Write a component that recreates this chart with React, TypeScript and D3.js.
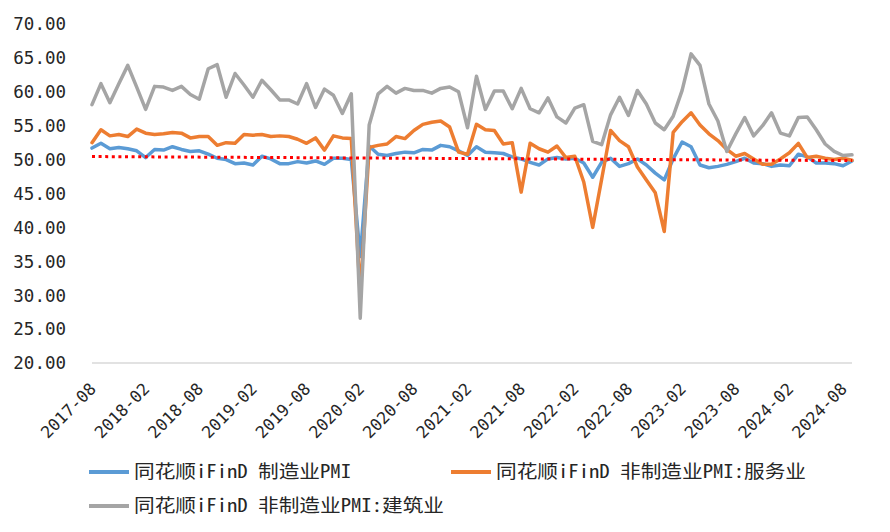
import React from "react";
import * as d3 from "d3";

// monthly, 2017-08 .. 2024-09
const startMonth = new Date(Date.UTC(2017, 7, 1));
const endMonth = new Date(Date.UTC(2024, 9, 1));
const months = d3.utcMonth.range(startMonth, endMonth).map(d3.utcFormat("%Y-%m"));

const manufacturing = [
  51.7, 52.4, 51.6, 51.8, 51.6,
  51.3, 50.3, 51.5, 51.4, 51.9, 51.5, 51.2, 51.3, 50.8, 50.2, 50.0, 49.4,
  49.5, 49.2, 50.5, 50.1, 49.4, 49.4, 49.7, 49.5, 49.8, 49.3, 50.2, 50.2,
  50.0, 35.7, 52.0, 50.8, 50.6, 50.9, 51.1, 51.0, 51.5, 51.4, 52.1, 51.9,
  51.3, 50.6, 51.9, 51.1, 51.0, 50.9, 50.4, 50.1, 49.6, 49.2, 50.1, 50.3,
  50.1, 50.2, 49.5, 47.4, 49.6, 50.2, 49.0, 49.4, 50.1, 49.2, 48.0, 47.0,
  50.1, 52.6, 51.9, 49.2, 48.8, 49.0, 49.3, 49.7, 50.2, 49.5, 49.4, 49.0,
  49.2, 49.1, 50.8, 50.4, 49.5, 49.5, 49.4, 49.1, 49.8,
];

const services = [
  52.5, 54.4, 53.5, 53.7, 53.4,
  54.5, 53.9, 53.7, 53.8, 54.0, 53.9, 53.2, 53.4, 53.4, 52.1, 52.5, 52.4,
  53.7, 53.6, 53.7, 53.4, 53.5, 53.4, 53.0, 52.4, 53.2, 51.4, 53.5, 53.2,
  53.1, 30.1, 51.8, 52.1, 52.3, 53.4, 53.1, 54.3, 55.2, 55.5, 55.7, 54.8,
  51.1, 50.8, 55.2, 54.4, 54.3, 52.3, 52.5, 45.2, 52.4, 51.6, 51.1, 52.0,
  50.3, 50.5, 46.7, 40.0, 47.1, 54.3, 52.8, 51.9, 48.9, 47.0, 45.1, 39.4,
  54.0, 55.6, 56.9, 55.1, 53.8, 52.8, 51.5, 50.5, 50.9, 50.1, 49.3, 49.3,
  50.1, 51.0, 52.4, 50.3, 50.5, 50.2, 50.0, 50.2, 49.9,
];

const construction = [
  58.1, 61.2, 58.4, 61.2, 63.9,
  60.7, 57.4, 60.8, 60.7, 60.2, 60.8, 59.6, 58.9, 63.4, 64.0, 59.2, 62.7,
  61.0, 59.2, 61.7, 60.3, 58.8, 58.8, 58.2, 61.2, 57.7, 60.4, 59.5, 56.8,
  59.7, 26.6, 55.1, 59.7, 60.8, 59.8, 60.5, 60.2, 60.2, 59.8, 60.5, 60.7,
  60.0, 54.7, 62.3, 57.4, 60.1, 60.1, 57.5, 60.5, 57.5, 56.9, 59.1, 56.3,
  55.4, 57.6, 58.1, 52.7, 52.2, 56.6, 59.2, 56.5, 60.2, 58.2, 55.4, 54.4,
  56.4, 60.2, 65.6, 63.9, 58.2, 55.7, 51.2, 53.8, 56.2, 53.5, 55.0, 56.9,
  53.9, 53.5, 56.2, 56.3, 54.4, 52.3, 51.2, 50.6, 50.7,
];

// red dotted trend line, value at first and last month
const trendEnds = [50.45, 49.85];

const seriesNames = [
  "同花顺iFinD 制造业PMI",
  "同花顺iFinD 非制造业PMI:服务业",
  "同花顺iFinD 非制造业PMI:建筑业",
];
const seriesColors = ["#5B9BD5", "#ED7D31", "#A5A5A5"];
const yTicks = [20, 25, 30, 35, 40, 45, 50, 55, 60, 65, 70];

const W = 890, H = 532;
const monoFont = "'DejaVu Sans Mono', 'Liberation Mono', monospace";
const cjkFont = "'Noto Sans Mono CJK SC', 'Noto Sans CJK SC', sans-serif";

export default function App() {
  const x = d3.scalePoint<string>().domain(months).range([92, 852]);
  const y = d3.scaleLinear().domain([20, 70]).range([363, 24]);

  const all = [manufacturing, services, construction];
  const line = d3.line<number>()
    .x((_, i) => x(months[i]) as number)
    .y((d) => y(d));

  const last = months.length - 1;
  const tickMonths = months.filter((_, i) => i % 6 === 0);

  const legend = [
    { i: 0, lx: 89, ty: 472, tx: 134, len: 217 },
    { i: 1, lx: 451, ty: 472, tx: 496, len: 310 },
    { i: 2, lx: 89, ty: 506, tx: 134, len: 310 },
  ];

  return (
    <svg width={W} height={H} style={{ position: "absolute", left: 0, top: 0, background: "#fff" }}>
      <rect width={W} height={H} fill="#fff" />
      <line x1={92} x2={852} y1={y(20)} y2={y(20)} stroke="#D9D9D9" strokeWidth={1.3} />

      {yTicks.map((t) => (
        <text key={t} x={66} y={y(t)} dy="0.36em" textAnchor="end" fontFamily={monoFont} fontSize={17.5} fill="#262626">
          {d3.format(".2f")(t)}
        </text>
      ))}

      {tickMonths.map((m) => (
        <text key={m} transform={`translate(${(x(m) as number) + 5},${390}) rotate(-45)`} textAnchor="end"
          fontFamily={monoFont} fontSize={16.5} fill="#262626">
          {m}
        </text>
      ))}

      {all.map((s, k) => (
        <path key={k} d={line(s) || ""} fill="none" stroke={seriesColors[k]} strokeWidth={3.5}
          strokeLinejoin="round" strokeLinecap="round" />
      ))}

      <line x1={x(months[0])} x2={x(months[last])} y1={y(trendEnds[0])} y2={y(trendEnds[1])}
        stroke="#FF0000" strokeWidth={3} strokeDasharray="3 3.6" />

      {legend.map((l) => (
        <g key={l.i}>
          <line x1={l.lx} x2={l.lx + 40} y1={l.ty} y2={l.ty} stroke={seriesColors[l.i]} strokeWidth={4} />
          <text x={l.tx} y={l.ty} dy="0.36em" fontFamily={cjkFont} fontSize={18} fill="#262626"
            textLength={l.len} lengthAdjust="spacingAndGlyphs">
            {seriesNames[l.i]}
          </text>
        </g>
      ))}
    </svg>
  );
}
